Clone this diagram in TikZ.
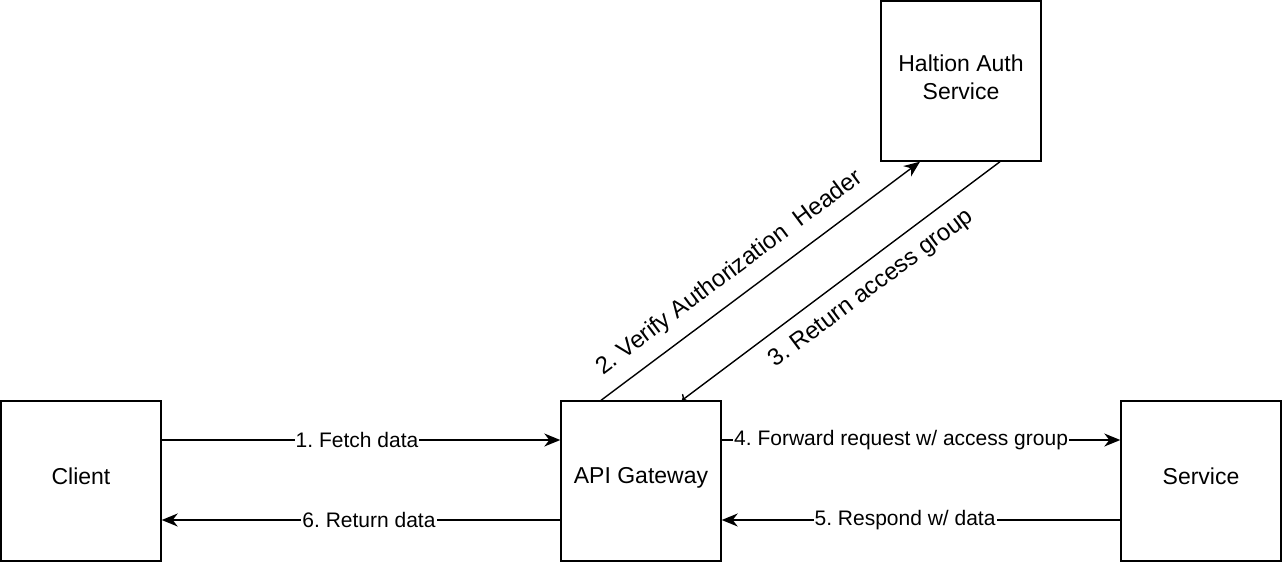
\documentclass[tikz,border=0pt]{standalone}
\usepackage{fontspec}
\setmainfont{Liberation Sans}
\usepackage{xcolor}
\usepackage{tikz}
\usetikzlibrary{arrows.meta, positioning}
\frenchspacing

\begin{document}
\begin{tikzpicture}[
    x=1pt, y=-1pt,
    block/.style={rectangle, draw=black, line width=1.4pt, fill=white, minimum width=160pt, minimum height=160pt, align=center, inner sep=0pt, text depth=10.5pt, font=\fontsize{23}{28}\selectfont},
    arrow/.style={-{Stealth[length=16pt, width=13pt, inset=5pt]}, line width=1.4pt},
    lbl/.style={fill=white, inner sep=1pt, font=\fontsize{21}{25}\selectfont},
    slbl/.style={sloped, inner sep=2pt, font=\fontsize{24}{28}\selectfont}
]
    \useasboundingbox (0,0) rectangle (1282,562);

    \node[block] (client) at (81, 481) {Client};
    \node[block] (gateway) at (641, 481) {API Gateway};
    \node[block] (service) at (1201, 481) {Service};
    \node[block, text depth=8pt] (auth) at (961, 81) {Haltion Auth\\Service};

    % request path
    \draw[arrow] ([yshift=41pt]client.east) -- node[lbl, pos=0.49] {1. Fetch data} ([yshift=41pt]gateway.west);
    \draw[arrow] ([xshift=-40pt]gateway.north) -- node[slbl, above=11pt, pos=0.45] {2. Verify Authorization\ \ Header} ([xshift=-41pt]auth.south);
    \draw[arrow, <-] ([xshift=41pt]gateway.north) -- node[slbl, below=11pt, pos=0.55] {3. Return access group} ([xshift=39pt]auth.south);
    \draw[arrow] ([yshift=41pt]gateway.east) -- node[lbl, pos=0.45] {4. Forward request w/ access group} ([yshift=41pt]service.west);

    % response path
    \draw[arrow] ([yshift=-39pt]service.west) -- node[lbl, pos=0.54] {5. Respond w/ data} ([yshift=-39pt]gateway.east);
    \draw[arrow] ([yshift=-39pt]gateway.west) -- node[lbl, pos=0.48] {6. Return data} ([yshift=-39pt]client.east);
\end{tikzpicture}
\end{document}
